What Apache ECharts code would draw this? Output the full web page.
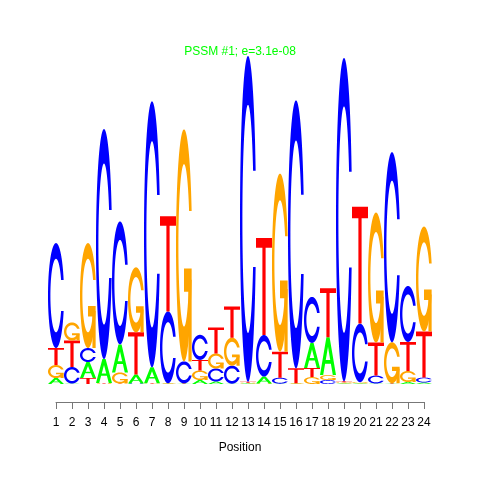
<!DOCTYPE html>
<html>
<head>
<meta charset="utf-8">
<script src="https://cdn.jsdelivr.net/npm/echarts@6/dist/echarts.min.js"></script>
<style>html,body{margin:0;padding:0;background:#fff;}#chart{width:480px;height:480px;}</style>
</head>
<body>
<div id="chart"></div>
<script>
// Sequence logo data (information content, bits) per position
const positions = [1,2,3,4,5,6,7,8,9,10,11,12,13,14,15,16,17,18,19,20,21,22,23,24];
const letters = ['A','C','G','T'];
const bitsA = [0.036,0.003,0.097,0.145,0.170,0.055,0.097,0.002,0.002,0.024,0.015,0.002,0.004,0.042,0.002,0.002,0.152,0.230,0.005,0.005,0.003,0.002,0.012,0.009];
const bitsC = [0.636,0.100,0.085,1.394,0.745,0.003,1.612,0.436,0.133,0.152,0.079,0.109,1.975,0.252,0.036,1.624,0.279,0.024,1.960,0.355,0.048,1.152,0.339,0.030];
const bitsG = [0.079,0.110,0.636,0.003,0.067,0.394,0.002,0.002,1.406,0.058,0.091,0.170,0.004,0.003,1.079,0.002,0.042,0.030,0.005,0.006,0.788,0.248,0.067,0.636];
const bitsT = [0.103,0.160,0.036,0.003,0.003,0.255,0.002,0.576,0.002,0.064,0.158,0.188,0.005,0.588,0.158,0.091,0.055,0.297,0.006,0.709,0.200,0.003,0.176,0.279];
// stacking order of letters in each column, bottom to top
const stackOrder = ['AGTC','ACTG','TACG','GTAC','TGAC','CATG','GTAC','AGCT','ATCG','AGTC','ACGT','ACGT',
                    'AGTC','GACT','ACTG','AGTC','GTAC','CGAT','AGTC','AGCT','ACTG','ATGC','AGTC','ACTG'];
const tickLabels = positions.map(String);
const titleText = 'PSSM #1; e=3.1e-08';
const axisName = 'Position';

const letterColors = {A:'#00FF00', C:'#0000FF', G:'#FFA500', T:'#FF0000'};

// Letter outlines in unit square (x right, y up), seqLogo style
function seq(a,b,n){const r=[];for(let i=0;i<n;i++)r.push(a+(b-a)*i/(n-1));return r;}
function buildCBase(){
  const a1=seq(0.3+Math.PI/2,Math.PI,100), a2=seq(Math.PI,1.5*Math.PI,100);
  const xl1=a1.map(a=>0.5+0.5*Math.sin(a)), yl1=a1.map(a=>0.5+0.5*Math.cos(a));
  const xl2=a2.map(a=>0.5+0.5*Math.sin(a)), yl2=a2.map(a=>0.5+0.5*Math.cos(a));
  const xl=xl1.concat(xl2), yl=yl1.concat(yl2);
  let x=xl.concat(xl.slice().reverse());
  let y=yl.concat(yl.slice().reverse().map(v=>1-v));
  const maxY=Math.max(...yl1);
  let xi1=a1.map(a=>0.5+0.35*Math.sin(a)), yi1=a1.map(a=>0.5+0.35*Math.cos(a));
  const keep=yi1.map(v=>v<=maxY);
  xi1=xi1.filter((v,i)=>keep[i]); yi1=yi1.filter((v,i)=>keep[i]);
  yi1[0]=maxY;
  const xi2=a2.map(a=>0.5+0.35*Math.sin(a)), yi2=a2.map(a=>0.5+0.35*Math.cos(a));
  const xi=xi1.concat(xi2), yi=yi1.concat(yi2);
  const x1=xi.concat(xi.slice().reverse());
  const y1=yi.concat(yi.slice().reverse().map(v=>1-v));
  x=x.concat(x1.slice().reverse()); y=y.concat(y1.slice().reverse());
  return {x,y,r1:Math.max(...xl1)};
}
const cb=buildCBase();
const shapes={
  A:[{pts:[[0,0],[0.4,1],[0.6,1],[1,0],[0.8,0],[0.68,0.3],[0.32,0.3],[0.2,0]],white:false},
     {pts:[[0.36,0.4],[0.5,0.75],[0.64,0.4]],white:true}],
  C:[{pts:cb.x.map((v,i)=>[v,cb.y[i]]),white:false}],
  G:[{pts:cb.x.map((v,i)=>[v,cb.y[i]]).reverse(),white:false},
     {pts:[[cb.r1,0.4],[0.5,0.4],[0.5,0.3],[cb.r1-0.2,0.3],[cb.r1-0.2,0],[cb.r1,0]],white:false}],
  T:[{pts:[[0,1],[1,1],[1,0.9],[0.6,0.9],[0.6,0],[0.4,0],[0.4,0.9],[0,0.9]],white:false}]
};

// Build stacked data: [position, y0, y1, letterIndex]
const bitsByLetter=[bitsA,bitsC,bitsG,bitsT];
const stackData=[];
positions.forEach((p,i)=>{
  let cum=0;
  stackOrder[i].split('').forEach(L=>{
    const k=letters.indexOf(L);
    const h=bitsByLetter[k][i];
    stackData.push([p,cum,cum+h,k]);
    cum+=h;
  });
});

const chart=echarts.init(document.getElementById('chart'),null,{renderer:'canvas'});
chart.setOption({
  animation:false,
  backgroundColor:'#ffffff',
  title:{text:titleText,left:'center',top:46,padding:0,
    textStyle:{color:'#00FF00',fontSize:12,fontWeight:'normal',fontFamily:'Liberation Sans, Arial, sans-serif'}},
  grid:[
    {left:48,right:48,top:54,bottom:96},
    {left:56,right:56,top:300,bottom:78}
  ],
  xAxis:[
    {type:'value',gridIndex:0,min:0.5,max:24.5,show:false},
    {type:'value',gridIndex:1,min:1,max:24,interval:1,
      axisLine:{show:true,lineStyle:{color:'#777',width:1}},
      axisTick:{show:true,length:7,lineStyle:{color:'#777'}},
      splitLine:{show:false},
      axisLabel:{margin:15,color:'#000',fontSize:12,fontFamily:'Liberation Sans, Arial, sans-serif',
        formatter:v=>tickLabels[v-1]||''},
      name:axisName,nameLocation:'middle',nameGap:40,
      nameTextStyle:{color:'#000',fontSize:12,fontFamily:'Liberation Sans, Arial, sans-serif'}}
  ],
  yAxis:[
    {type:'value',gridIndex:0,min:0,max:2,show:false},
    {type:'value',gridIndex:1,min:0,max:1,show:false}
  ],
  series:[{
    type:'custom',
    xAxisIndex:0,yAxisIndex:0,
    data:stackData,
    encode:{x:0,y:[1,2]},
    renderItem:function(params,api){
      const pos=api.value(0),y0=api.value(1),y1=api.value(2),k=api.value(3);
      const L=letters[k];
      const pA=api.coord([pos-0.5,y0]);
      const pB=api.coord([pos+0.5,y1]);
      const w=pB[0]-pA[0], h=pA[1]-pB[1];
      const children=shapes[L].map(s=>({
        type:'polygon',
        shape:{points:s.pts.map(q=>[pA[0]+q[0]*w,pA[1]-q[1]*h])},
        style:{fill:s.white?'#ffffff':letterColors[L],stroke:null}
      }));
      return {type:'group',children};
    }
  }]
});
</script>
</body>
</html>
